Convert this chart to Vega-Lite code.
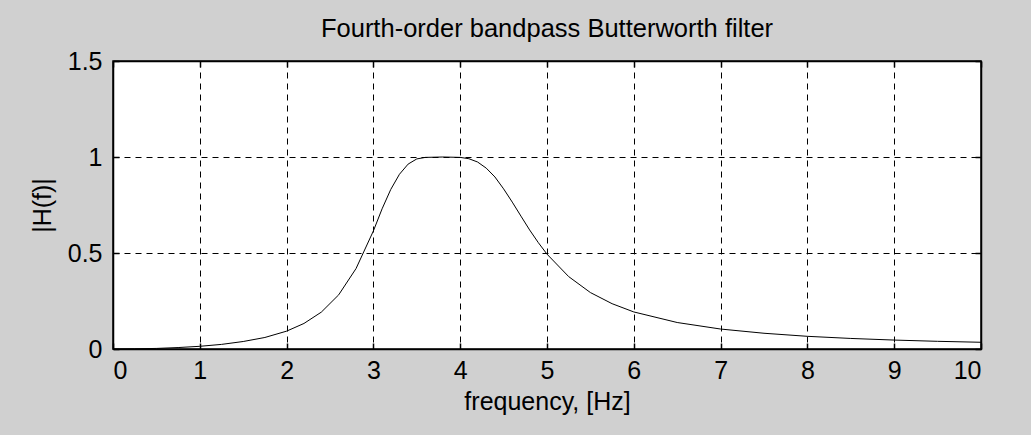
{
  "$schema": "https://vega.github.io/schema/vega-lite/v6.json",
  "width": 868,
  "height": 288,
  "autosize": {"type": "none"},
  "padding": {"left": 113, "top": 61, "right": 50, "bottom": 86},
  "background": "#d0d0d0",
  "title": {
    "text": "Fourth-order bandpass Butterworth filter",
    "fontSize": 25.5,
    "font": "Liberation Sans",
    "fontWeight": "normal",
    "color": "#000000",
    "offset": 7
  },
  "config": {
    "view": {"fill": "#ffffff", "stroke": "#000000", "strokeWidth": 1.5},
    "axis": {
      "labelFont": "Liberation Sans",
      "labelFontSize": 25,
      "labelColor": "#000000",
      "titleFont": "Liberation Sans",
      "titleFontSize": 25,
      "titleFontWeight": "normal",
      "titleColor": "#000000",
      "domainColor": "#000000",
      "domainWidth": 1.5,
      "tickColor": "#000000",
      "tickWidth": 1.5,
      "tickSize": -6,
      "gridColor": "#000000",
      "gridOpacity": 1,
      "gridWidth": 1,
      "gridDash": [6, 5]
    }
  },
  "data": {
    "values": [
      {"f": 0, "h": 0},
      {"f": 0.25, "h": 0.001},
      {"f": 0.5, "h": 0.003},
      {"f": 0.75, "h": 0.0075},
      {"f": 1, "h": 0.014},
      {"f": 1.25, "h": 0.024},
      {"f": 1.5, "h": 0.039},
      {"f": 1.75, "h": 0.06},
      {"f": 2, "h": 0.093},
      {"f": 2.2, "h": 0.133},
      {"f": 2.4, "h": 0.192},
      {"f": 2.6, "h": 0.282},
      {"f": 2.8, "h": 0.419},
      {"f": 3, "h": 0.615},
      {"f": 3.1, "h": 0.73},
      {"f": 3.2, "h": 0.831},
      {"f": 3.3, "h": 0.91},
      {"f": 3.4, "h": 0.963},
      {"f": 3.5, "h": 0.99},
      {"f": 3.6, "h": 0.998},
      {"f": 3.8, "h": 1.0},
      {"f": 4, "h": 0.998},
      {"f": 4.1, "h": 0.991},
      {"f": 4.2, "h": 0.974},
      {"f": 4.3, "h": 0.942},
      {"f": 4.4, "h": 0.896},
      {"f": 4.5, "h": 0.834},
      {"f": 4.6, "h": 0.765},
      {"f": 4.7, "h": 0.692},
      {"f": 4.8, "h": 0.62},
      {"f": 4.9, "h": 0.554},
      {"f": 5, "h": 0.494},
      {"f": 5.25, "h": 0.377},
      {"f": 5.5, "h": 0.294},
      {"f": 5.75, "h": 0.236},
      {"f": 6, "h": 0.193},
      {"f": 6.5, "h": 0.138},
      {"f": 7, "h": 0.104},
      {"f": 7.5, "h": 0.082},
      {"f": 8, "h": 0.066},
      {"f": 8.5, "h": 0.055},
      {"f": 9, "h": 0.0465},
      {"f": 9.5, "h": 0.04},
      {"f": 10, "h": 0.035}
    ]
  },
  "layer": [
    {
      "mark": {"type": "line", "color": "#000000", "strokeWidth": 1},
      "encoding": {
        "x": {
          "field": "f",
          "type": "quantitative",
          "scale": {"domain": [0, 10], "nice": false, "zero": false},
          "axis": {
            "orient": "bottom",
            "title": "frequency, [Hz]",
            "values": [0, 1, 2, 3, 4, 5, 6, 7, 8, 9, 10],
            "format": "d",
            "grid": true,
            "labelPadding": 15,
            "titlePadding": 6
          }
        },
        "y": {
          "field": "h",
          "type": "quantitative",
          "scale": {"domain": [0, 1.5], "nice": false},
          "axis": {
            "orient": "left",
            "title": "|H(f)|",
            "values": [0, 0.5, 1, 1.5],
            "format": "~r",
            "grid": true,
            "labelPadding": 17,
            "titlePadding": 12
          }
        }
      }
    },
    {
      "mark": {"type": "line", "strokeOpacity": 0},
      "encoding": {
        "x": {
          "field": "f",
          "type": "quantitative",
          "axis": {
            "orient": "top",
            "title": null,
            "labels": false,
            "grid": false,
            "values": [0, 1, 2, 3, 4, 5, 6, 7, 8, 9, 10]
          }
        },
        "y": {
          "field": "h",
          "type": "quantitative",
          "axis": {
            "orient": "right",
            "title": null,
            "labels": false,
            "grid": false,
            "values": [0, 0.5, 1, 1.5]
          }
        }
      }
    }
  ],
  "resolve": {"axis": {"x": "independent", "y": "independent"}}
}
